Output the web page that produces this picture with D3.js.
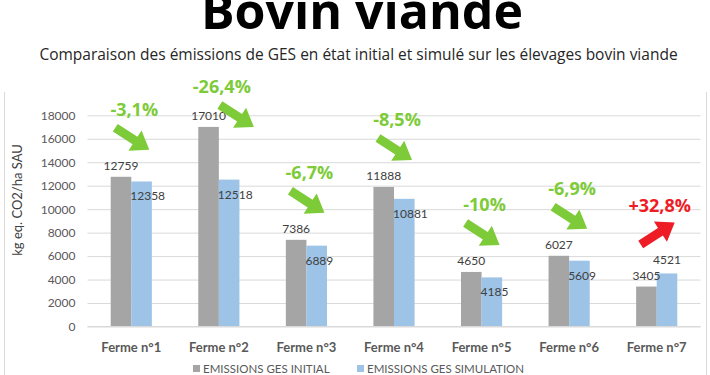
<!DOCTYPE html>
<html>
<head>
<meta charset="utf-8">
<script src="https://cdn.jsdelivr.net/npm/d3@7"></script>
<style>
  body { margin: 0; background: #fff; }
  svg { display: block; }
  .tick text { font-family: Lato, sans-serif; font-size: 12px; fill: #595959; }
  .val { font-family: Lato, sans-serif; font-size: 12px; fill: #404040; }
  .cat { font-family: Lato, sans-serif; font-size: 13px; font-weight: bold; fill: #595959; }
  .legend { font-family: Lato, sans-serif; font-size: 11.5px; fill: #595959; }
  .note { font-family: 'Open Sans', sans-serif; font-size: 18px; font-weight: 700; }
</style>
</head>
<body>
<svg width="710" height="375"></svg>
<script>
// chart values
var farms = ['Ferme n°1', 'Ferme n°2', 'Ferme n°3', 'Ferme n°4', 'Ferme n°5', 'Ferme n°6', 'Ferme n°7'];
var initial = [12759, 17010, 7386, 11888, 4650, 6027, 3405];
var simulation = [12358, 12518, 6889, 10881, 4185, 5609, 4521];
var changes = ['-3,1%', '-26,4%', '-6,7%', '-8,5%', '-10%', '-6,9%', '+32,8%'];
var yTicks = [0, 2000, 4000, 6000, 8000, 10000, 12000, 14000, 16000, 18000];
var seriesNames = ['EMISSIONS GES INITIAL', 'EMISSIONS GES SIMULATION'];

var colors = ['#a5a5a5', '#9dc3e6'];
var green = '#7dcb38', red = '#ee1c25';

var svg = d3.select('svg');

// frame of the chart area
svg.append('line').attr('x1', 4.5).attr('x2', 4.5).attr('y1', 92).attr('y2', 375)
    .attr('stroke', '#d9d9d9');
svg.append('line').attr('x1', 706.5).attr('x2', 706.5).attr('y1', 92).attr('y2', 375)
    .attr('stroke', '#d9d9d9');

// titles
svg.append('text')
    .attr('x', 362).attr('y', 29)
    .attr('text-anchor', 'middle')
    .style('font-family', "'Open Sans', sans-serif")
    .style('font-weight', 700)
    .style('font-size', '50px')
    .attr('fill', '#000')
    .text('Bovin viande');

svg.append('text')
    .attr('x', 358.5).attr('y', 60)
    .attr('text-anchor', 'middle')
    .style('font-family', "'Open Sans', sans-serif")
    .style('font-size', '15.5px')
    .attr('fill', '#262626')
    .text('Comparaison des émissions de GES en état initial et simulé sur les élevages bovin viande');

var xScale = d3.scaleBand()
    .domain(farms)
    .range([87.5, 700.5])
    .paddingInner(0.53)
    .paddingOuter(0.265);

var xSub = d3.scaleBand()
    .domain([0, 1])
    .range([0, xScale.bandwidth()]);

var yScale = d3.scaleLinear()
    .domain([0, 18000])
    .range([326.5, 115.3]);

// gridlines + y axis labels
var yAxis = d3.axisLeft(yScale)
    .tickValues(yTicks)
    .tickSize(-613)
    .tickPadding(12)
    .tickFormat(d3.format('d'));

svg.append('g')
    .attr('class', 'y axis')
    .attr('transform', 'translate(87.5,0)')
    .call(yAxis)
    .call(g => g.select('.domain').remove())
    .call(g => g.selectAll('.tick line').attr('stroke', '#d9d9d9'));

svg.append('text')
    .attr('transform', 'translate(22,200) rotate(-90)')
    .attr('text-anchor', 'middle')
    .style('font-family', 'Lato, sans-serif')
    .style('font-size', '13px')
    .attr('fill', '#404040')
    .text('kg eq. CO2/ha SAU');

// bars
var rows = farms.map(function(f, i) {
    return { farm: f, values: [initial[i], simulation[i]], change: changes[i] };
});

var groups = svg.append('g')
    .selectAll('g')
    .data(rows)
    .enter()
    .append('g')
    .attr('transform', function(d) { return 'translate(' + xScale(d.farm) + ',0)'; });

groups.selectAll('rect')
    .data(function(d) { return d.values; })
    .enter()
    .append('rect')
    .attr('x', function(d, i) { return xSub(i); })
    .attr('width', xSub.bandwidth())
    .attr('y', function(d) { return yScale(d); })
    .attr('height', function(d) { return yScale(0) - yScale(d); })
    .attr('fill', function(d, i) { return colors[i]; });

// value labels
groups.append('text')
    .attr('class', 'val')
    .attr('x', xSub(0) + xSub.bandwidth() / 2)
    .attr('y', function(d) { return yScale(d.values[0]) - 7; })
    .attr('text-anchor', 'middle')
    .text(function(d) { return d.values[0]; });

groups.append('text')
    .attr('class', 'val')
    .attr('x', function(d) {
        return d.values[1] > d.values[0] ? xSub(1) + xSub.bandwidth() / 2 : xSub(1) - 1;
    })
    .attr('y', function(d) {
        return d.values[1] > d.values[0] ? yScale(d.values[1]) - 9 : yScale(d.values[1]) + 19;
    })
    .attr('text-anchor', function(d) { return d.values[1] > d.values[0] ? 'middle' : 'start'; })
    .text(function(d) { return d.values[1]; });

// change annotations with block arrows
var arrowPath = function(len) {
    var sw = 4.5, hw = 12, hl = 17;
    return 'M0,' + (-sw) + 'L' + (len - hl) + ',' + (-sw) + 'L' + (len - hl) + ',' + (-hw) +
        'L' + len + ',0L' + (len - hl) + ',' + hw + 'L' + (len - hl) + ',' + sw + 'L0,' + sw + 'Z';
};

rows.forEach(function(d) {
    var up = d.values[1] > d.values[0];
    var cx = xScale(d.farm) + xScale.bandwidth() / 2 + 3;
    var natural = yScale(d3.max(d.values)) - 67;
    var cy = Math.max(87, natural);
    // when the label hits the top, the arrow goes beside it
    var shift = natural < 87 ? 17 : 0;
    var col = up ? red : green;
    svg.append('text')
        .attr('class', 'note')
        .attr('x', cx).attr('y', cy + 6)
        .attr('text-anchor', 'middle')
        .attr('fill', col)
        .text(d.change);
    var x0 = cx - 19 + shift, y0 = up ? cy + 38 : cy + 18;
    var x1 = cx + 15 + shift, y1 = up ? cy + 16 : cy + 40;
    var len = Math.hypot(x1 - x0, y1 - y0);
    var ang = Math.atan2(y1 - y0, x1 - x0) * 180 / Math.PI;
    svg.append('path')
        .attr('d', arrowPath(len))
        .attr('transform', 'translate(' + x0 + ',' + y0 + ') rotate(' + ang + ')')
        .attr('fill', col);
});

// category axis
svg.append('line')
    .attr('x1', 87.5).attr('x2', 700.5)
    .attr('y1', 326.5).attr('y2', 326.5)
    .attr('stroke', '#d9d9d9');

svg.append('g')
    .selectAll('text')
    .data(farms)
    .enter()
    .append('text')
    .attr('class', 'cat')
    .attr('x', function(d) { return xScale(d) + xScale.bandwidth() / 2; })
    .attr('y', 352)
    .attr('text-anchor', 'middle')
    .text(function(d) { return d; });

// legend
var legendX = [193, 357];
var legend = svg.append('g')
    .selectAll('g')
    .data(seriesNames)
    .enter()
    .append('g')
    .attr('transform', function(d, i) { return 'translate(' + legendX[i] + ',365)'; });

legend.append('rect')
    .attr('width', 7).attr('height', 7)
    .attr('fill', function(d, i) { return colors[i]; });

legend.append('text')
    .attr('class', 'legend')
    .attr('x', 10).attr('y', 8)
    .text(function(d) { return d; });
</script>
</body>
</html>
